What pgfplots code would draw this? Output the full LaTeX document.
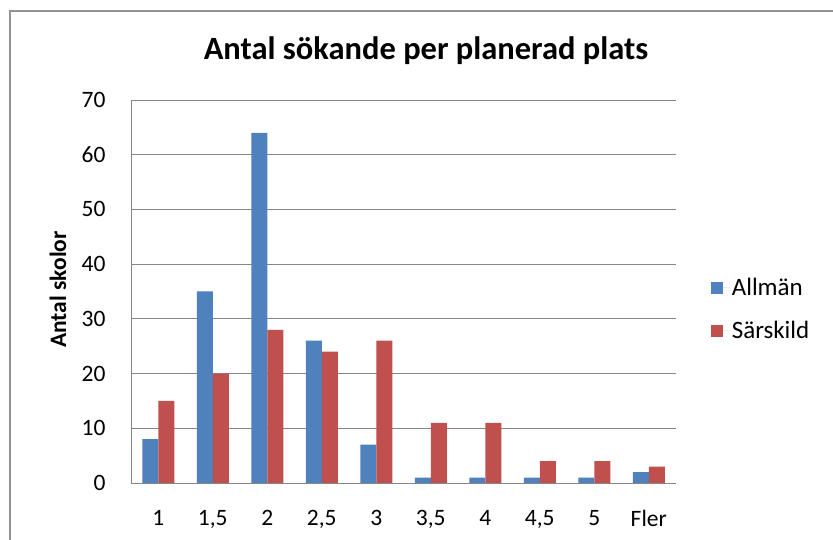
\documentclass[border=0pt]{standalone}
\usepackage{pgfplots}
\pgfplotsset{compat=1.18}
\usepackage{fontspec}
\setmainfont{Carlito}
\definecolor{blu}{HTML}{4F81BD}
\definecolor{rd}{HTML}{C0504D}
\definecolor{grd}{HTML}{868686}
\begin{document}
\begin{tikzpicture}[x=1pt,y=1pt]
\fill[white] (0,0) rectangle (833,540);
\draw[grd!90, line width=1.5pt] (10,-20) -- (10,529) -- (860,529);
\begin{axis}[
  at={(131pt,57pt)}, anchor=south west,
  scale only axis, width=545pt, height=383pt,
  ybar=0pt, bar width=16pt,
  xmin=-0.5, xmax=9.5, ymin=0, ymax=70,
  xtick=data,
  xticklabels={1,{1,5},2,{2,5},3,{3,5},4,{4,5},5,Fler},
  ytick={0,10,...,70},
  ymajorgrids, grid style={grd, line width=0.8pt},
  axis x line*=bottom, axis y line*=left,
  x axis line style={grd, line width=0.8pt, -},
  y axis line style={grd, line width=0.8pt, -},
  major tick length=0pt,
  /pgf/number format/assume math mode=true,
  tick label style={font=\fontsize{23.5}{28}\selectfont, text=black},
  yticklabel style={xshift=-22pt},
  xticklabel style={yshift=-24pt},
  ylabel={\textbf{Antal skolor}},
  ylabel style={font=\fontsize{23.5}{28}\selectfont, at={(axis description cs:-0.134,0.505)}, anchor=center},
  legend style={draw=none, at={(axis description cs:1.058,0.454)}, anchor=west, font=\fontsize{25}{30}\selectfont, row sep=20pt, legend cell align=left},
  legend image code/.code={\path (0,0) -- (19pt,0); \fill[#1] (0,-6pt) rectangle (12pt,6pt);},
  clip=false,
]
\addplot[fill=blu, draw=none] coordinates {(0,8) (1,35) (2,64) (3,26) (4,7) (5,1) (6,1) (7,1) (8,1) (9,2)};
\addplot[fill=rd, draw=none] coordinates {(0,15) (1,20) (2,28) (3,24) (4,26) (5,11) (6,11) (7,4) (8,4) (9,3)};
\legend{Allmän, Särskild}
\end{axis}
\node[font=\bfseries\fontsize{32.5}{38}\selectfont] at (426,489) {Antal sökande per planerad plats};
\pgfresetboundingbox
\useasboundingbox (0,0) rectangle (833,540);
\end{tikzpicture}
\end{document}
